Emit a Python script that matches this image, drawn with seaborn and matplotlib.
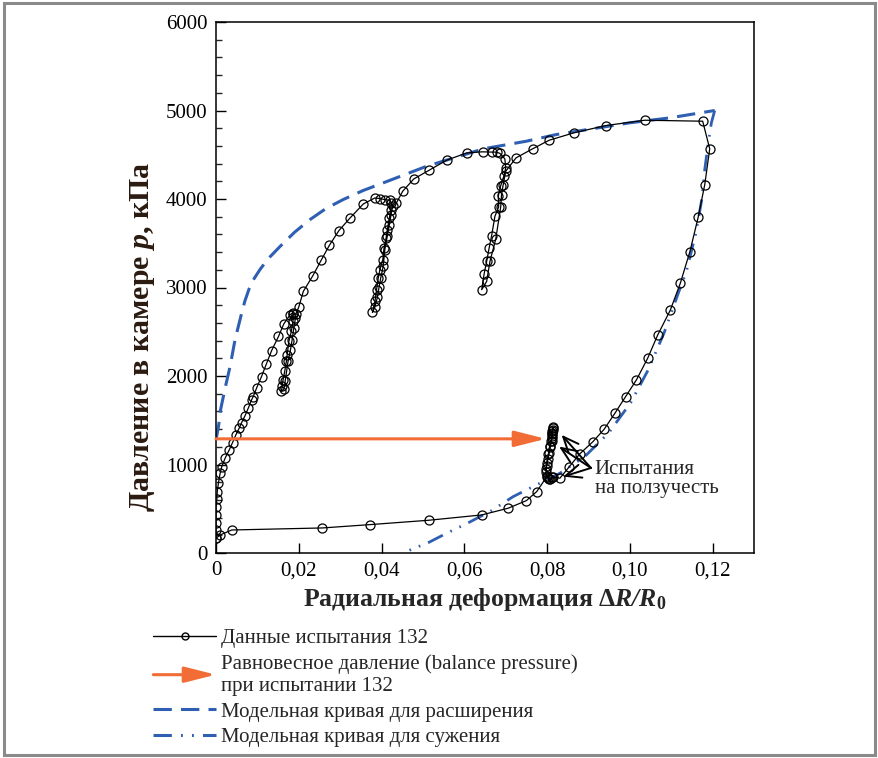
import numpy as np
import pandas as pd
import seaborn as sns
import matplotlib
matplotlib.use("Agg")
import matplotlib.pyplot as plt
import matplotlib.patches as mpatches
from matplotlib.lines import Line2D
from matplotlib.legend_handler import HandlerPatch

# ---------------- data ----------------
test_x = [0, 0, 0, 0, 0, 0.0002, 0.0003, 0.0006, 0.0010, 0.0014, 0.0022, 0.0032, 0.0040,
          0.0048, 0.0056, 0.0062, 0.0070, 0.0078, 0.0086, 0.0090, 0.0098, 0.0110, 0.0122,
          0.01345, 0.0151, 0.0164, 0.0179, 0.0185, 0.0187,
          0.0186, 0.0182, 0.0176, 0.0172, 0.0170, 0.0166, 0.0162, 0.0160, 0.0158,
          0.0164, 0.0167, 0.0174, 0.0180, 0.0184, 0.0188, 0.0192, 0.0193,
          0.0200, 0.0211, 0.0234, 0.0254, 0.0274, 0.0297, 0.0324, 0.0356, 0.0384,
          0.0396, 0.0408, 0.0420, 0.0424,
          0.0422, 0.0419, 0.0414, 0.0411, 0.0406, 0.0403, 0.0396, 0.0392, 0.0388, 0.0384, 0.0378,
          0.0384, 0.0390, 0.0394, 0.0398, 0.0404, 0.0408, 0.0414, 0.0419, 0.0423, 0.0427,
          0.0436, 0.0451, 0.0478, 0.0515, 0.0557, 0.0606, 0.0644, 0.0666, 0.0678, 0.0686, 0.0698,
          0.0700, 0.0696, 0.0688, 0.0682, 0.0683, 0.0674, 0.0666, 0.0660, 0.0654, 0.0648, 0.0642,
          0.0654, 0.0662, 0.0676, 0.0688, 0.0690, 0.0694, 0.0700,
          0.0725, 0.0765, 0.0805, 0.0865, 0.0942, 0.1036, 0.1176,
          0.1193, 0.1181, 0.1165, 0.1145, 0.1122, 0.1098, 0.1067, 0.1043, 0.1016, 0.0990,
          0.0964, 0.0938, 0.0911, 0.0879, 0.0853, 0.0831,
          0.0815, 0.0808, 0.0802, 0.0799, 0.0805, 0.0812,
          0.0797, 0.0799, 0.0803, 0.0806, 0.0809, 0.0811, 0.0812, 0.0813, 0.0814, 0.0815,
          0.0814, 0.0812, 0.0813, 0.0811, 0.0808, 0.0805, 0.0802, 0.0799, 0.0797, 0.0799,
          0.0775, 0.0750, 0.0706, 0.0642, 0.0514, 0.0373, 0.0257, 0.0038, 0.0010, 0]
test_p = [166, 260, 336, 430, 524, 607, 693, 795, 901, 976, 1071, 1165, 1248,
          1335, 1410, 1474, 1550, 1637, 1731, 1768, 1863, 1994, 2140,
          2288, 2447, 2590, 2692, 2711, 2704,
          2617, 2504, 2391, 2240, 2164, 2051, 1957, 1882, 1825,
          1852, 1938, 2164, 2296, 2410, 2541, 2654, 2704,
          2779, 2956, 3133, 3307, 3477, 3643, 3786, 3944, 4012,
          4005, 3993, 3986, 3956,
          3880, 3786, 3654, 3560, 3447, 3315, 3201, 3107, 2975, 2843, 2719,
          2780, 2890, 3003, 3107, 3239, 3428, 3579, 3711, 3824, 3918,
          3956, 4087, 4227, 4325, 4438, 4521, 4533, 4530, 4530, 4515, 4453,
          4351, 4265, 4152, 4031, 3911, 3805, 3586, 3447, 3295, 3156, 2975,
          3069, 3295, 3548, 3911, 4050, 4163, 4313,
          4465, 4567, 4664, 4748, 4830, 4890, 4879,
          4567, 4162, 3792, 3404, 3049, 2747, 2460, 2200, 1957, 1768,
          1580, 1399, 1259, 1120, 970, 845,
          860, 835, 850, 870, 840, 855,
          946, 1019, 1113, 1207, 1263, 1300, 1340, 1380, 1410, 1420,
          1395, 1360, 1320, 1270, 1200, 1130, 1060, 980, 910, 860,
          694, 592, 506, 430, 370, 321, 283, 260, 204, 166]

expand_x = [0, 0.0006, 0.0011, 0.0022, 0.0034, 0.0046, 0.0062, 0.0070, 0.0080, 0.0092,
            0.0106, 0.0125, 0.0155, 0.0190, 0.0227, 0.0265, 0.0307, 0.0355, 0.0404, 0.0509,
            0.0646, 0.0750, 0.0823, 0.1000, 0.1097, 0.1205]
expand_p = [1278, 1429, 1618, 1863, 2108, 2410, 2711, 2850, 2985, 3100,
            3201, 3320, 3465, 3625, 3767, 3890, 3993, 4095, 4182, 4370,
            4567, 4653, 4729, 4861, 4917, 5000]

contract_x = [0.1205, 0.1197, 0.1189, 0.1181, 0.1174, 0.1160, 0.1136, 0.1122, 0.1083, 0.1045,
              0.1002, 0.0949, 0.0892, 0.0831, 0.0766, 0.0718, 0.0662, 0.0638, 0.0605, 0.0560,
              0.0513, 0.0477, 0.0452]
contract_p = [5000, 4861, 4615, 4333, 4000, 3623, 3170, 3000, 2491, 2075,
              1698, 1358, 1094, 901, 750, 637, 467, 411, 330, 230,
              117, 50, 0]

balance_p = 1290
balance_x_end = 0.0797

creep_tips_x = [0.0835, 0.0829, 0.0839]
creep_tips_p = [1335, 1202, 863]

x_ticks = [0, 0.02, 0.04, 0.06, 0.08, 0.10, 0.12]
x_tick_labels = ["0", "0,02", "0,04", "0,06", "0,08", "0,10", "0,12"]
y_ticks = [0, 1000, 2000, 3000, 4000, 5000, 6000]

legend_labels = ["Данные испытания 132",
                 "Равновесное давление (balance pressure)\nпри испытании 132",
                 "Модельная кривая для расширения",
                 "Модельная кривая для сужения"]

# ---------------- style ----------------
sns.set_style("ticks")
plt.rcParams["font.family"] = ["Liberation Serif", "DejaVu Serif"]
plt.rcParams["mathtext.fontset"] = "custom"
plt.rcParams["mathtext.rm"] = "Liberation Serif"
plt.rcParams["mathtext.it"] = "Liberation Serif:italic"
plt.rcParams["mathtext.bf"] = "Liberation Serif:bold"
plt.rcParams["mathtext.bfit"] = "Liberation Serif:italic:bold"

BLUE = "#2f5fb3"
ORANGE = "#f26c36"
ARROW_STYLE = "-|>,head_length=0.95,head_width=0.24"

fig = plt.figure(figsize=(8.79, 7.58), dpi=100)
ax = fig.add_axes([216 / 879, (758 - 553) / 758, (754 - 216) / 879, (553 - 22) / 758])

df_test = pd.DataFrame({"x": test_x, "p": test_p})
df_exp = pd.DataFrame({"x": expand_x, "p": expand_p})
df_con = pd.DataFrame({"x": contract_x, "p": contract_p})

sns.lineplot(data=df_exp, x="x", y="p", sort=False, estimator=None, ax=ax,
             color=BLUE, lw=2.2, linestyle=(0, (6, 3)), zorder=2)
sns.lineplot(data=df_con, x="x", y="p", sort=False, estimator=None, ax=ax,
             color=BLUE, lw=2.0, linestyle=(0, (6, 3, 0.6, 3, 0.6, 3)), zorder=2)
sns.lineplot(data=df_test, x="x", y="p", sort=False, estimator=None, ax=ax,
             color="black", lw=0.9, marker="o", markersize=6.5,
             markerfacecolor="none", markeredgecolor="black", markeredgewidth=0.9, zorder=3)

# balance pressure arrow
ax.annotate("", xy=(balance_x_end, balance_p), xytext=(0, balance_p),
            arrowprops=dict(arrowstyle=ARROW_STYLE, color=ORANGE, lw=2.2,
                            mutation_scale=20, shrinkA=0, shrinkB=0), zorder=4)

# creep test annotation
ax.text(0.0915, 1052, "Испытания\nна ползучесть", fontsize=15, va="top", ha="left",
        linespacing=1.0)
for tx, tp in zip(creep_tips_x, creep_tips_p):
    ax.annotate("", xy=(tx, tp), xytext=(0.0906, 961),
                arrowprops=dict(arrowstyle="->,head_length=0.7,head_width=0.3",
                                color="black", lw=1.4, mutation_scale=16,
                                shrinkA=0, shrinkB=0), zorder=5)

ax.set_xlim(0, 0.13)
ax.set_ylim(0, 6000)
ax.set_xticks(x_ticks)
ax.set_xticklabels(x_tick_labels)
ax.set_yticks(y_ticks)
ax.set_yticks(np.arange(0, 6001, 200), minor=True)
ax.tick_params(axis="both", which="major", direction="in", length=7, width=1,
               labelsize=15, pad=6, colors="black")
ax.tick_params(axis="y", which="minor", direction="in", length=4, width=1)
for s in ax.spines.values():
    s.set_visible(True)
    s.set_color("black")
    s.set_linewidth(1.1)

ax.set_xlabel(r"Радиальная деформация Δ$\mathbfit{R/R}_{\mathbf{0}}$",
              fontsize=18.5, fontweight="bold", labelpad=4)
ax.set_ylabel(r"Давление в камере $\mathbfit{p}$, кПа", fontsize=21.5,
              fontweight="bold", color="#2a1a10")
ax.yaxis.set_label_coords(-0.11, 0.407)


# ---------------- legend ----------------
class HandlerArrow(HandlerPatch):
    def create_artists(self, legend, orig_handle, xdescent, ydescent, width, height,
                       fontsize, trans):
        p = mpatches.FancyArrowPatch((-xdescent, height / 2), (-xdescent + width, height / 2),
                                     arrowstyle=ARROW_STYLE, mutation_scale=20,
                                     color=ORANGE, lw=2.2, shrinkA=0, shrinkB=0)
        p.set_transform(trans)
        return [p]


h_test = Line2D([], [], color="black", lw=1.0, marker="o", markersize=5,
                markerfacecolor="none", markeredgecolor="black")
h_arrow = mpatches.FancyArrowPatch((0, 0), (1, 0))
h_exp = Line2D([], [], color=BLUE, lw=2.2, linestyle=(0, (6, 3)))
h_con = Line2D([], [], color=BLUE, lw=2.2, linestyle=(0, (6, 3, 0.6, 3, 0.6, 3)))

fig.legend([h_test, h_arrow, h_exp, h_con], legend_labels,
           handler_map={mpatches.FancyArrowPatch: HandlerArrow()},
           loc="upper left", bbox_to_anchor=(0.1555, 0.193), frameon=False,
           fontsize=15, handlelength=3.0, handletextpad=0.25, labelspacing=0.3,
           borderpad=0.3)

# outer grey frame
fig.patches.append(mpatches.Rectangle((0.004, 0.004), 0.992, 0.992, transform=fig.transFigure,
                                      fill=False, edgecolor="#8a8a8a", lw=2.2))

fig.savefig("out.png", dpi=100)
